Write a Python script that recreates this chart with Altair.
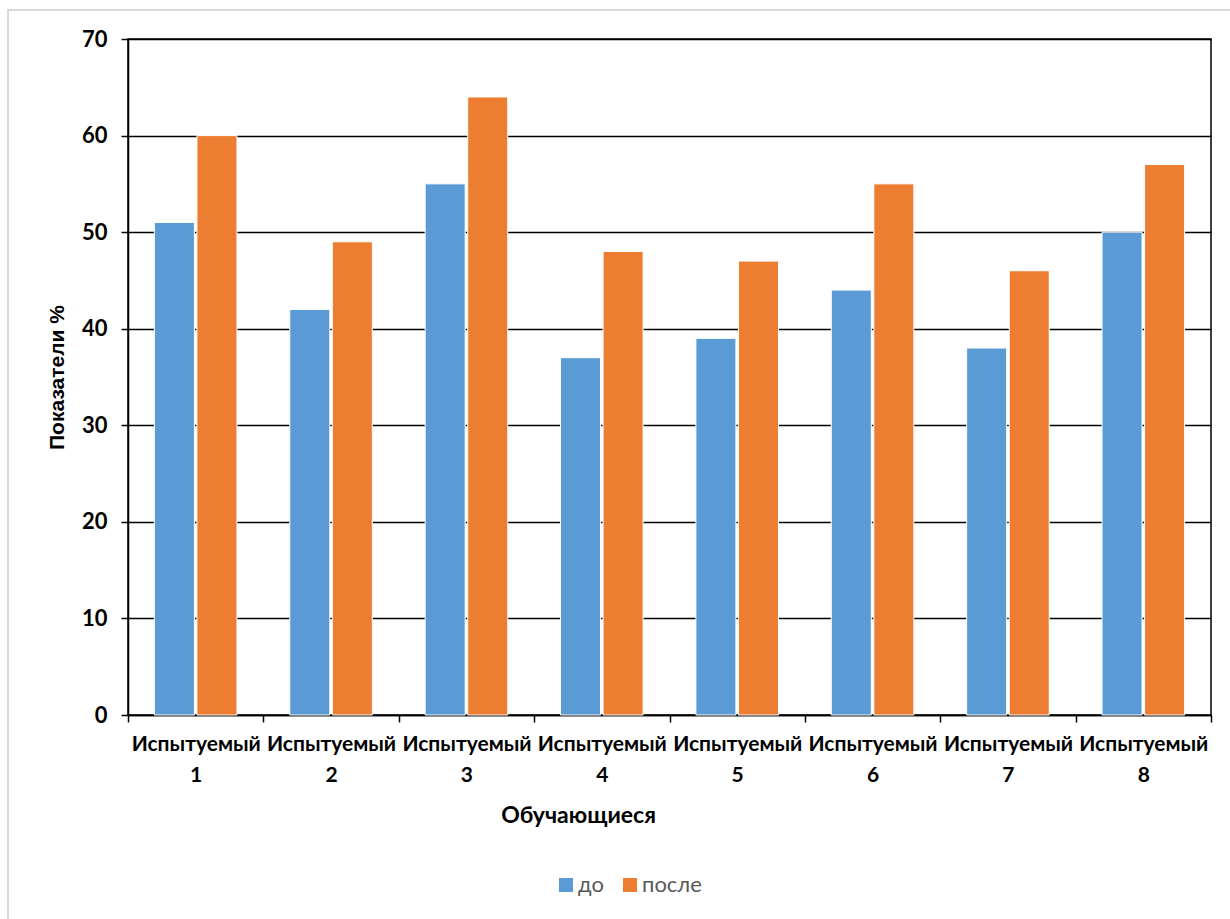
import altair as alt
import pandas as pd

# Scores per participant, before and after
subjects = [f"Испытуемый {i}" for i in range(1, 9)]
before = [51, 42, 55, 37, 39, 44, 38, 50]
after = [60, 49, 64, 48, 47, 55, 46, 57]
phases = ["до", "после"]
colors = ["#5B9BD5", "#ED7D31"]
y_ticks = [0, 10, 20, 30, 40, 50, 60, 70]

rows = []
for s, b, a in zip(subjects, before, after):
    rows.append({"subject": s, "phase": "до", "value": b})
    rows.append({"subject": s, "phase": "после", "value": a})
df = pd.DataFrame(rows)

W, H = 1083, 676
LEFT, TOP = 128, 39

bars = alt.Chart(df).mark_bar(stroke="white", strokeWidth=1).encode(
    x=alt.X(
        "subject:N",
        sort=subjects,
        scale=alt.Scale(paddingInner=0, paddingOuter=0),
        axis=alt.Axis(
            title="Обучающиеся",
            labelExpr="split(datum.label, ' ')",
            labelAngle=0,
            labelFont="Lato",
            labelFontWeight="bold",
            labelFontSize=21,
            labelColor="black",
            labelLineHeight=31,
            labelPadding=11,
            labelBaseline="top",
            tickBand="extent",
            tickSize=7,
            tickColor="black",
            tickWidth=1.5,
            domainColor="black",
            domainWidth=1.5,
            titleFont="Lato",
            titleFontWeight="bold",
            titleFontSize=23,
            titleColor="black",
            titleX=450,
            titleY=100,
            titleBaseline="middle",
            titleAnchor="start",
            titleAlign="center",
            grid=False,
        ),
    ),
    xOffset=alt.XOffset(
        "phase:N", sort=phases, scale=alt.Scale(paddingInner=0.06, paddingOuter=0.62)
    ),
    y=alt.Y(
        "value:Q",
        scale=alt.Scale(domain=[0, 70], nice=False),
        axis=alt.Axis(
            title="Показатели %",
            values=y_ticks,
            labelFont="Lato",
            labelFontWeight="bold",
            labelFontSize=22,
            labelColor="black",
            labelPadding=14,
            tickSize=7,
            tickColor="black",
            tickWidth=1.5,
            domainColor="black",
            domainWidth=1.5,
            gridColor="black",
            gridWidth=1.5,
            titleFont="Liberation Sans",
            titleFontWeight="bold",
            titleFontSize=21,
            titleColor="black",
            titleX=-71,
            titleY=H / 2,
            titleAngle=-90,
            titleAlign="center",
            titleBaseline="middle",
        ),
    ),
    color=alt.Color(
        "phase:N",
        sort=phases,
        scale=alt.Scale(domain=phases, range=colors),
        legend=alt.Legend(
            title=None,
            orient="none",
            direction="horizontal",
            legendX=427,
            legendY=835,
            symbolType="square",
            symbolSize=196,
            symbolStrokeWidth=0,
            symbolOpacity=1,
            labelFont="Lato",
            labelFontSize=22,
            labelColor="#595959",
            labelOffset=1,
            columnPadding=15,
            padding=0,
        ),
    ),
)

# light outer frame of the figure
frame = alt.Chart(alt.Data(values=[{}])).mark_rect(
    fill=None, stroke="#d9d9d9", strokeWidth=2
).encode(
    x=alt.value(8 - LEFT),
    y=alt.value(10 - TOP),
    x2=alt.value(1240 - LEFT),
    y2=alt.value(930 - TOP),
)

chart = alt.layer(frame, bars).properties(
    width=W,
    height=H,
    padding={"left": LEFT, "top": TOP, "right": 1230 - LEFT - W, "bottom": 919 - TOP - H},
    autosize=alt.AutoSizeParams(type="none"),
    background="white",
).configure_view(stroke="black", strokeWidth=1.5)

chart.save("out.html", embed_options={"renderer": "svg", "actions": False})
